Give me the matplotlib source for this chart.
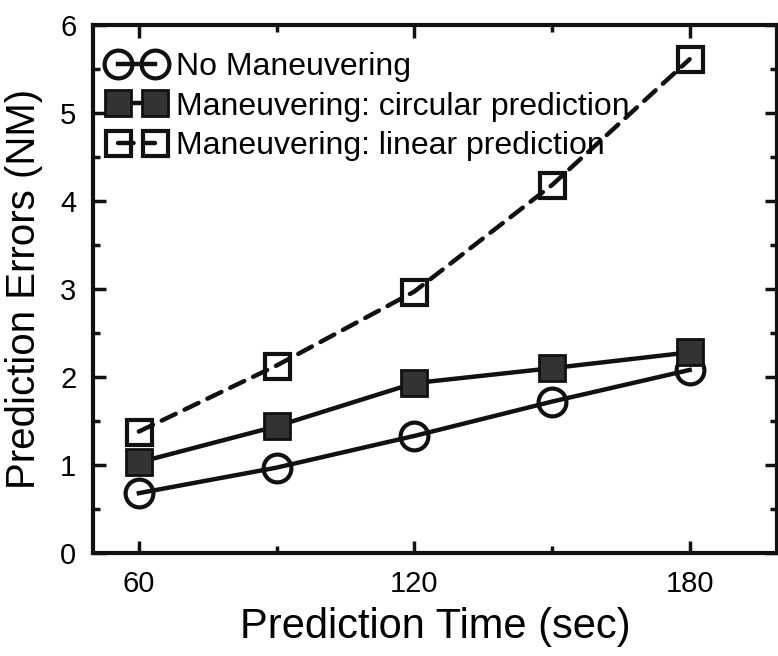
import matplotlib
matplotlib.use("Agg")
import matplotlib.pyplot as plt
from matplotlib.ticker import MultipleLocator, FixedLocator

plt.rcParams['font.family'] = ['Liberation Sans', 'DejaVu Sans']

# --- Data ---
pred_time = [60, 90, 120, 150, 180]
no_maneuver = [0.68, 0.97, 1.33, 1.72, 2.08]
circular_pred = [1.03, 1.44, 1.93, 2.10, 2.28]
linear_pred = [1.38, 2.13, 2.97, 4.18, 5.61]

labels = ["No Maneuvering",
          "Maneuvering: circular prediction",
          "Maneuvering: linear prediction"]
x_ticks = [60, 120, 180]
x_minor = [90, 150]

ink = "#111111"

fig = plt.figure(figsize=(7.78, 6.56), dpi=100)
ax = fig.add_axes([0.1195, 0.157, 0.879, 0.805])

ax.plot(pred_time, no_maneuver, color=ink, lw=3.2, marker='o', ms=20,
        mfc='none', mec=ink, mew=3, label=labels[0])
ax.plot(pred_time, circular_pred, color=ink, lw=3.2, marker='s', ms=19,
        mfc='#333333', mec=ink, mew=2, label=labels[1])
ax.plot(pred_time, linear_pred, color=ink, lw=3.2, ls=(0, (3.5, 2.2)),
        dash_capstyle='round', marker='s', ms=18,
        mfc='none', mec=ink, mew=3, label=labels[2])

ax.set_xlim(50, 199)
ax.set_ylim(0, 6)
ax.xaxis.set_major_locator(FixedLocator(x_ticks))
ax.xaxis.set_minor_locator(FixedLocator(x_minor))
ax.yaxis.set_major_locator(MultipleLocator(1))
ax.yaxis.set_minor_locator(MultipleLocator(0.5))

ax.tick_params(which='both', direction='in', top=True, right=True, width=2.5, color=ink)
ax.tick_params(which='major', length=9, labelsize=21, pad=12)
ax.tick_params(which='minor', length=5)
for s in ax.spines.values():
    s.set_linewidth(3)
    s.set_color(ink)

ax.set_xlabel("Prediction Time (sec)", fontsize=30, labelpad=7)
ax.set_ylabel("Prediction Errors (NM)", fontsize=29, labelpad=12)

leg = ax.legend(loc='upper left', bbox_to_anchor=(-0.005, 0.985), frameon=False,
                fontsize=23, numpoints=2, handlelength=1.75, handletextpad=0.35,
                borderaxespad=0.2, labelspacing=0.3, borderpad=0.4)

fig.savefig("out.png", dpi=100)
